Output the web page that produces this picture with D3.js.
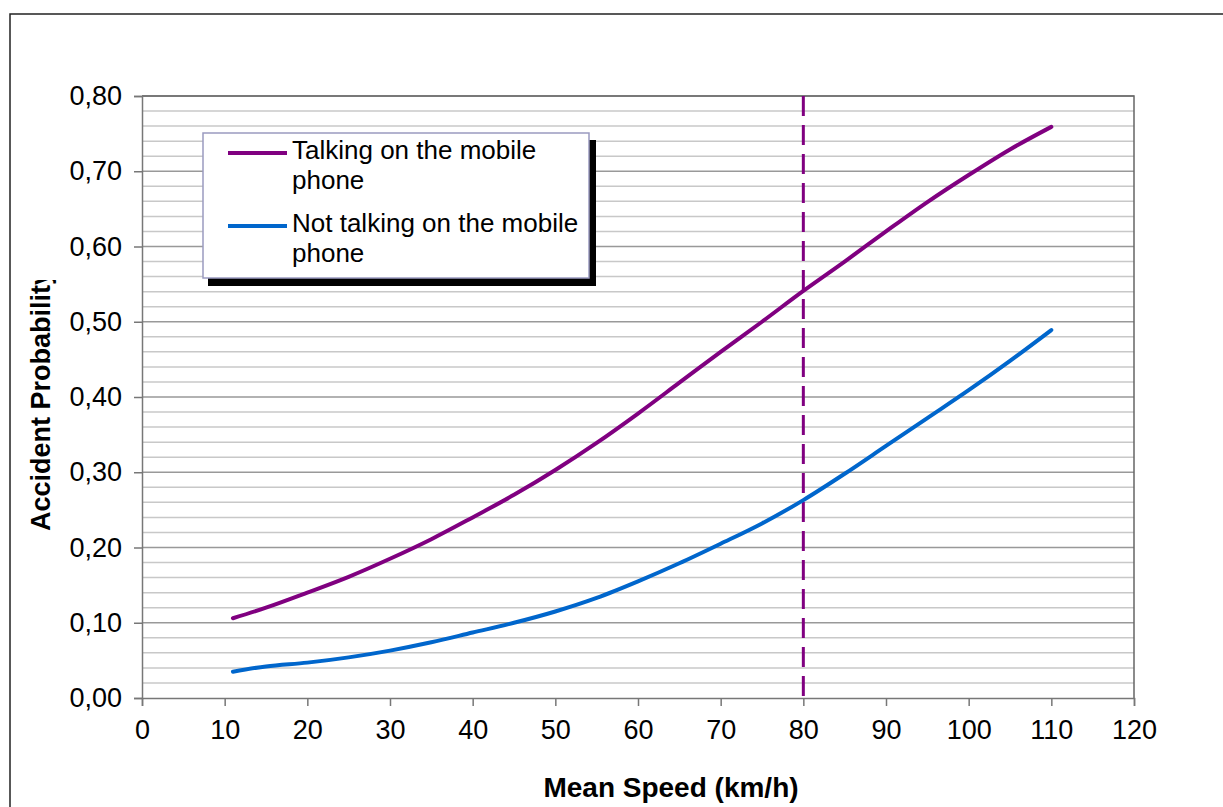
<!DOCTYPE html>
<html>
<head>
<meta charset="utf-8">
<script src="https://cdn.jsdelivr.net/npm/d3@7"></script>
<style>
  body { margin: 0; background: #fff; }
  text { font-family: "Liberation Sans", Arial, sans-serif; }
</style>
</head>
<body>
<div id="chart"></div>
<script>
// Data
var speeds = [11, 15, 20, 25, 30, 35, 40, 45, 50, 55, 60, 65, 70, 75, 80, 85, 90, 95, 100, 105, 110];
var talking = [0.106, 0.120, 0.140, 0.161, 0.185, 0.211, 0.240, 0.270, 0.303, 0.339, 0.378, 0.419, 0.460, 0.500, 0.541, 0.580, 0.620, 0.659, 0.695, 0.729, 0.759];
var notTalking = [0.035, 0.042, 0.047, 0.054, 0.063, 0.074, 0.087, 0.100, 0.115, 0.133, 0.155, 0.179, 0.205, 0.232, 0.263, 0.298, 0.335, 0.372, 0.409, 0.448, 0.489];
var xTicks = [0, 10, 20, 30, 40, 50, 60, 70, 80, 90, 100, 110, 120];
var yTicks = [0, 0.1, 0.2, 0.3, 0.4, 0.5, 0.6, 0.7, 0.8];
var markerSpeed = 80;
var seriesNames = ["Talking on the mobile|phone", "Not talking on the mobile|phone"];
var seriesColors = ["#800080", "#0066cc"];

var width = 1223, height = 807;
var plot = { left: 142, right: 1134, top: 96, bottom: 698 };

var svg = d3.select("#chart").append("svg")
  .attr("width", width)
  .attr("height", height);

// outer frame (only top and left edges show)
svg.append("path")
  .attr("d", "M10,807 L10,14 L1223,14")
  .attr("fill", "none")
  .attr("stroke", "#222")
  .attr("stroke-width", 1.5);

var x = d3.scaleLinear().domain([0, 120]).range([plot.left, plot.right]);
var y = d3.scaleLinear().domain([0, 0.8]).range([plot.bottom, plot.top]);

// minor gridlines every 0.02
svg.append("g").selectAll("line")
  .data(d3.range(0.02, 0.8, 0.02).filter(function(d) { return Math.abs(d * 10 - Math.round(d * 10)) > 0.01; }))
  .join("line")
  .attr("x1", plot.left).attr("x2", plot.right)
  .attr("y1", function(d) { return y(d); }).attr("y2", function(d) { return y(d); })
  .attr("stroke", "#c8c8c8").attr("stroke-width", 1.5);

// major gridlines
svg.append("g").selectAll("line")
  .data(yTicks.slice(1))
  .join("line")
  .attr("x1", plot.left).attr("x2", plot.right)
  .attr("y1", function(d) { return y(d); }).attr("y2", function(d) { return y(d); })
  .attr("stroke", "#999").attr("stroke-width", 1.5);

// plot border top/right
svg.append("path")
  .attr("d", "M" + plot.left + "," + plot.top + " L" + plot.right + "," + plot.top + " L" + plot.right + "," + plot.bottom)
  .attr("fill", "none").attr("stroke", "#666").attr("stroke-width", 1.5);

// axes
var yAxis = svg.append("g")
  .attr("transform", "translate(" + plot.left + ",0)")
  .call(d3.axisLeft(y).tickValues(yTicks).tickSize(8).tickPadding(12)
    .tickFormat(function(d) { return d.toFixed(2).replace(".", ","); }));
var xAxis = svg.append("g")
  .attr("transform", "translate(0," + plot.bottom + ")")
  .call(d3.axisBottom(x).tickValues(xTicks).tickSize(8).tickPadding(14));

[yAxis, xAxis].forEach(function(a) {
  a.select(".domain").attr("stroke", "#777").attr("stroke-width", 1.5);
  a.selectAll(".tick line").attr("stroke", "#777").attr("stroke-width", 1.5);
  a.selectAll(".tick text")
    .attr("fill", "#000")
    .style("font-size", "27px")
    .style("font-family", "'Liberation Sans', Arial, sans-serif");
});

// dashed marker at 80 km/h
svg.append("line")
  .attr("x1", x(markerSpeed)).attr("x2", x(markerSpeed))
  .attr("y1", plot.top).attr("y2", plot.bottom)
  .attr("stroke", "#800080").attr("stroke-width", 3)
  .attr("stroke-dasharray", "20,9");

// series lines
var line = d3.line()
  .x(function(d) { return x(d[0]); })
  .y(function(d) { return y(d[1]); })
  .curve(d3.curveMonotoneX);

[talking, notTalking].forEach(function(vals, i) {
  svg.append("path")
    .datum(speeds.map(function(s, j) { return [s, vals[j]]; }))
    .attr("d", line)
    .attr("fill", "none")
    .attr("stroke", seriesColors[i])
    .attr("stroke-width", 4)
    .attr("stroke-linejoin", "round")
    .attr("stroke-linecap", "round");
});

// legend with drop shadow
var legend = svg.append("g");
legend.append("rect")
  .attr("x", 208).attr("y", 140).attr("width", 388).attr("height", 146)
  .attr("fill", "#000");
legend.append("rect")
  .attr("x", 203).attr("y", 133).attr("width", 386).attr("height", 145)
  .attr("fill", "#fff").attr("stroke", "#9a9ac0").attr("stroke-width", 1.5);

var legendRows = [153, 226];
seriesNames.forEach(function(name, i) {
  var yy = legendRows[i];
  legend.append("line")
    .attr("x1", 228).attr("x2", 287)
    .attr("y1", yy).attr("y2", yy)
    .attr("stroke", seriesColors[i]).attr("stroke-width", 4);
  var t = legend.append("text")
    .attr("x", 292).attr("y", yy + 6)
    .style("font-size", "26px").attr("fill", "#000");
  name.split("|").forEach(function(part, k) {
    t.append("tspan").attr("x", 292).attr("dy", k === 0 ? 0 : 30).text(part);
  });
});

// axis titles
svg.append("text")
  .attr("x", 671).attr("y", 797)
  .attr("text-anchor", "middle")
  .style("font-size", "28px").style("font-weight", "bold")
  .text("Mean Speed (km/h)");

svg.append("clipPath").attr("id", "ytitle-clip")
  .append("rect").attr("x", 0).attr("y", 280).attr("width", 100).attr("height", 400);

svg.append("g")
  .attr("clip-path", "url(#ytitle-clip)")
  .append("text")
  .attr("transform", "translate(50,531) rotate(-90)")
  .attr("text-anchor", "start")
  .style("font-size", "27px").style("font-weight", "bold")
  .text("Accident Probability");
</script>
</body>
</html>
